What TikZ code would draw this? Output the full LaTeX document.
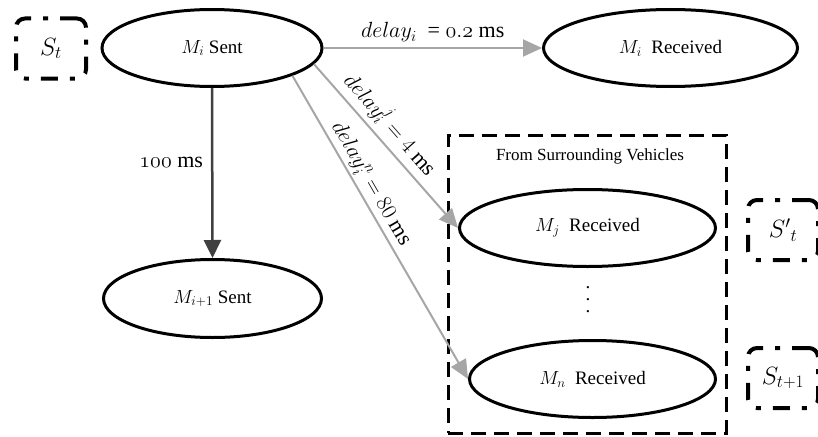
\documentclass[tikz,border=0pt]{standalone}
\usepackage{fix-cm}
\usepackage{fontspec}
\setmainfont{Liberation Serif}
\usetikzlibrary{arrows.meta,shapes.geometric}
\newcommand\osfont{\fontencoding{OML}\fontfamily{cmm}\fontseries{m}\fontshape{it}\selectfont}
\newcommand\osnum[1]{{\osfont #1}}
\newcommand\osdot{{\osfont\char58}}
\definecolor{lightarrow}{HTML}{A6A6A6}
\definecolor{darkarrow}{HTML}{404040}
\tikzset{
  msg/.style={draw=black, line width=3pt, ellipse, inner sep=0pt, minimum height=77pt,
    font=\fontsize{19}{22}\selectfont},
  statebox/.style={draw=black, line width=4pt, rounded corners=9pt, inner sep=0pt,
    minimum width=70pt, minimum height=60pt,
    dash pattern=on 17pt off 12pt on 5pt off 12pt, font=\fontsize{25}{28}\selectfont},
  grouprect/.style={draw=black, line width=3pt, dash pattern=on 15pt off 8pt, inner sep=0pt},
  lightarr/.style={draw=lightarrow, line width=2pt, -{Triangle[length=19pt,width=17pt]}},
  darkarr/.style={draw=darkarrow, line width=2.5pt, -{Triangle[length=18pt,width=17pt]}},
  lbl/.style={font=\fontsize{22}{25}\selectfont, inner sep=1pt, text=black},
}
\begin{document}
\begin{tikzpicture}[x=1pt,y=-1pt]
\useasboundingbox (0,0) rectangle (818,436);
% state boxes
\node[statebox] (St) at (51,48.5) {$S_t$};
\node[statebox] (Stp) at (783,230) {$S'{}_t$};
\node[statebox] (Stn) at (783,378) {$S_{t+1}$};
% group box
\node[grouprect, minimum width=278pt, minimum height=298pt] (grp) at (587,284) {};
\node[font=\fontsize{17}{20}\selectfont, inner sep=0pt] (from) at (590,156) {From Surrounding Vehicles};
% messages
\node[msg, minimum width=220pt] (Mi) at (212,48) {$M_i$ Sent};
\node[msg, minimum width=254pt] (Mr) at (670.5,48) {$M_i$\ \ Received};
\node[msg, minimum width=218pt, minimum height=78pt] (Mip) at (212.5,298.5) {$M_{i+1}$ Sent};
\node[msg, minimum width=256pt] (Mj) at (587.5,228) {$M_j$\ \ Received};
\node[msg, minimum width=246pt] (Mn) at (592.5,379) {$M_n$\ \ Received};
\node[font=\fontsize{19}{22}\selectfont, inner sep=0pt] (dots) at (588,300)
  {\vbox{\baselineskip=12pt\hbox{.}\hbox{.}\hbox{.}}};
% connectors
\draw[lightarr] (Mi.east) -- node[lbl, above=4pt, midway] {$delay_i$\ \ = \osnum{0}\osdot\osnum{2} ms} (Mr.west);
\draw[darkarr] (Mi.south) -- node[lbl, left=7pt, pos=0.44] {\osnum{100} ms} (Mip.north);
\draw[lightarr] (Mi.-9.4) -- node[lbl, sloped, above=4pt, pos=0.44] {$delay_i^j = 4$ ms} (Mj.west);
\draw[lightarr] (Mi.-19.9) -- node[lbl, sloped, above=1pt, pos=0.38] {$delay_i^n = 80$ ms} (Mn.west);
\end{tikzpicture}
\end{document}
